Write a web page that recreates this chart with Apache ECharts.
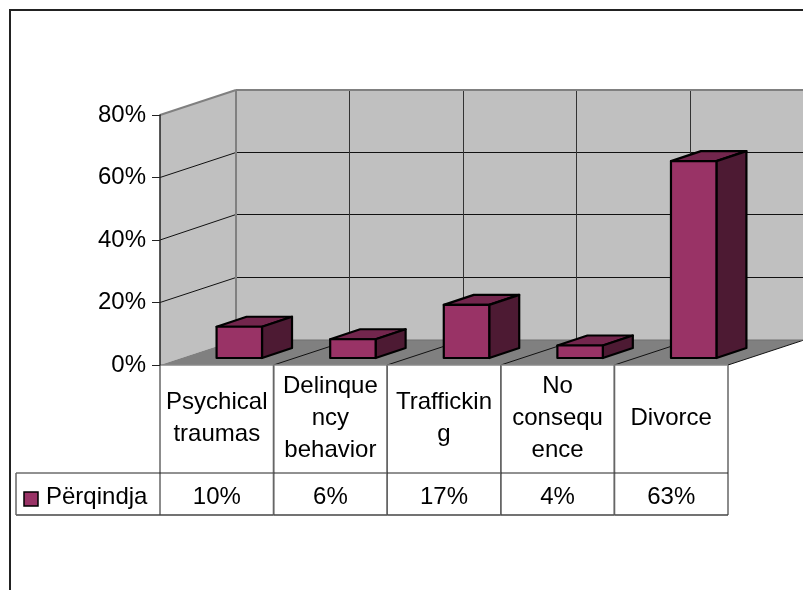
<!DOCTYPE html>
<html><head><meta charset="utf-8">
<style>html,body{margin:0;padding:0;background:#fff}#c{width:803px;height:590px}</style>
<script src="https://cdn.jsdelivr.net/npm/echarts@6/dist/echarts.min.js"></script>
</head><body><div id="c"></div>
<script>
var categories = ['Psychical\ntraumas', 'Delinque\nncy\nbehavior', 'Traffickin\ng', 'No\nconsequ\nence', 'Divorce'];
var values = [0.10, 0.06, 0.17, 0.04, 0.63];
var valueLabels = ['10%', '6%', '17%', '4%', '63%'];
var yTicks = [0, 0.2, 0.4, 0.6, 0.8];
var seriesName = 'Përqindja';

var DX = 76, DY = -25;            // depth of the floor
var BAR_DX = 30, BAR_DY = -10;    // depth of a bar
var BAR_SX = 22.5, BAR_SY = -7;   // bar inset from the front edge
var FONT = 'Liberation Sans, Arial, sans-serif', FS = 24;
var FRONT = '#993366', TOP = '#73264d', SIDE = '#4d1a33';
var TABLE_MID = 473, TABLE_BOT = 515, TABLE_LEFT = 16;

function crisp(v) { return Math.floor(v) + 0.5; }
function line(x1, y1, x2, y2, c, w) {
  return {type: 'line', shape: {x1: x1, y1: y1, x2: x2, y2: y2}, style: {stroke: c, lineWidth: w || 1, fill: null}};
}
function poly(pts, fill, stroke, w) {
  return {type: 'polygon', shape: {points: pts}, style: {fill: fill, stroke: stroke, lineWidth: w || 0, lineJoin: 'round'}};
}
function txt(s, x, y, align) {
  return {type: 'text', style: {text: s, x: x, y: y, align: align || 'center', verticalAlign: 'middle',
    fontFamily: FONT, fontSize: FS, lineHeight: 32, fill: '#000'}};
}

function renderWalls(params, api) {
  var w = api.size([1, 0])[0];
  var left = api.coord([0, 0])[0] - w / 2, right = left + w * categories.length;
  var y0 = api.coord([0, 0])[1], yTop = api.coord([0, yTicks[yTicks.length - 1]])[1];
  var ch = [];
  ch.push(poly([[left + DX, yTop + DY], [right + DX, yTop + DY], [right + DX, y0 + DY], [left + DX, y0 + DY]], '#c0c0c0'));
  ch.push(poly([[left, yTop], [left + DX, yTop + DY], [left + DX, y0 + DY], [left, y0]], '#c0c0c0'));
  ch.push(poly([[left, y0], [left + DX, y0 + DY], [right + DX, y0 + DY], [right, y0]], '#808080'));
  yTicks.slice(1, -1).forEach(function (t) {
    var y = api.coord([0, t])[1], by = crisp(y + DY - 0.5);
    ch.push(line(left, y, left + DX, by, '#111', 1));
    ch.push(line(left + DX, by, right + DX, by, '#111', 1));
  });
  for (var i = 1; i <= categories.length; i++) {
    var x = left + w * i;
    if (i < categories.length) ch.push(line(crisp(x + DX), yTop + DY, crisp(x + DX), y0 + DY, '#333', 1));
    ch.push(line(x, y0, x + DX, y0 + DY, '#111', 1));
  }
  ch.push(line(left + DX, yTop + DY, left + DX, y0 + DY, '#808080', 2));
  ch.push(line(left, yTop, left + DX, yTop + DY, '#808080', 2));
  ch.push(line(left + DX, yTop + DY, right + DX, yTop + DY, '#808080', 2));
  ch.push(line(left + DX, y0 + DY, right + DX, y0 + DY, '#707070', 1));
  return {type: 'group', children: ch};
}

function renderBar(params, api) {
  var i = api.value(0), v = api.value(1);
  var w = api.size([1, 0])[0], bw = w * 0.4;
  var base = api.coord([i, 0]), top = api.coord([i, v]);
  var l = base[0] - bw / 2 + BAR_SX, r = l + bw, b = base[1] + BAR_SY, t = top[1] + BAR_SY;
  return {type: 'group', children: [
    poly([[l, t], [r, t], [r + BAR_DX, t + BAR_DY], [l + BAR_DX, t + BAR_DY]], TOP, '#000', 2.2),
    poly([[r, t], [r + BAR_DX, t + BAR_DY], [r + BAR_DX, b + BAR_DY], [r, b]], SIDE, '#000', 2.2),
    poly([[l, t], [r, t], [r, b], [l, b]], FRONT, '#000', 2.2)
  ]};
}

function renderTable(params, api) {
  var i = api.value(0);
  var w = api.size([1, 0])[0];
  var c = api.coord([i, 0]), xl = c[0] - w / 2, xr = c[0] + w / 2, y0 = c[1];
  var ch = [
    line(xl, y0, xl, TABLE_BOT, '#666', 1.5),
    line(xr, y0, xr, TABLE_BOT, '#666', 1.5),
    line(xl, y0, xr, y0, '#888', 1.5),
    line(xl, TABLE_MID, xr, TABLE_MID, '#222', 1),
    line(xl, TABLE_BOT, xr, TABLE_BOT, '#444', 1.5),
    txt(categories[i], c[0], (y0 + TABLE_MID) / 2 - 0.5),
    txt(valueLabels[i], c[0], (TABLE_MID + TABLE_BOT) / 2 + 3)
  ];
  if (i === 0) {
    ch.push(line(TABLE_LEFT, TABLE_MID, xl, TABLE_MID, '#222', 1));
    ch.push(line(TABLE_LEFT, TABLE_BOT, xl, TABLE_BOT, '#444', 1.5));
    ch.push(line(TABLE_LEFT, TABLE_MID, TABLE_LEFT, TABLE_BOT, '#666', 1.5));
    ch.push({type: 'rect', shape: {x: 24, y: 492, width: 14, height: 14}, style: {fill: FRONT, stroke: '#000', lineWidth: 1.5}});
    ch.push(txt(seriesName, 46, (TABLE_MID + TABLE_BOT) / 2 + 3, 'left'));
  }
  return {type: 'group', children: ch};
}

var points = values.map(function (v, i) { return [i, v]; });
var chart = echarts.init(document.getElementById('c'), null, {renderer: 'canvas'});
chart.setOption({
  animation: false,
  backgroundColor: '#fff',
  grid: {left: 160, top: 115, width: 568, height: 250, containLabel: false},
  xAxis: {type: 'category', data: categories, axisLabel: {show: false}, axisTick: {show: false},
    axisLine: {show: false}, splitLine: {show: false}},
  yAxis: {type: 'value', min: 0, max: 0.8, interval: 0.2,
    axisLine: {show: true, lineStyle: {color: '#222', width: 1.5}},
    axisTick: {show: true, length: 8, lineStyle: {color: '#222', width: 1}},
    axisLabel: {margin: 14, color: '#000', fontFamily: FONT, fontSize: FS, padding: [5, 0, 0, 0],
      formatter: function (v) { return Math.round(v * 100) + '%'; }},
    splitLine: {show: false}, z: 5},
  graphic: [{type: 'polyline', silent: true, shape: {points: [[10, 590], [10, 10], [803, 10]]},
    style: {stroke: '#222', lineWidth: 2, fill: null}}],
  series: [
    {type: 'custom', name: 'walls', data: [[0, 0]], renderItem: renderWalls, silent: true, z: 1},
    {type: 'custom', name: seriesName, data: points, renderItem: renderBar, silent: true, z: 2},
    {type: 'custom', name: 'table', data: points, renderItem: renderTable, silent: true, z: 3}
  ]
});
</script></body></html>
